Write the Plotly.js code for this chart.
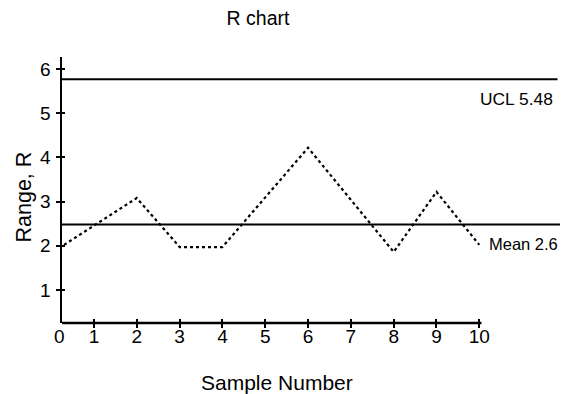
<!DOCTYPE html>
<html>
<head>
<meta charset="utf-8">
<script src="https://cdn.plot.ly/plotly-3.0.1.min.js"></script>
<style>html,body{margin:0;padding:0;background:#fff;}#chart{width:566px;height:394px;}</style>
</head>
<body>
<div id="chart"></div>
<script>
// Data
const sampleNumbers = [0.3, 2, 3, 4, 6, 8, 9, 10];
const rangeValues   = [2.02, 3.08, 1.97, 1.97, 4.22, 1.86, 3.22, 2.02];
const uclValue = 5.77;      // drawn position of the UCL line
const meanValue = 2.48;     // drawn position of the mean line
const uclLabel = "UCL 5.48";
const meanLabel = "Mean 2.6";
const xTickVals = [1, 2, 3, 4, 5, 6, 7, 8, 9, 10];
const yTickVals = [1, 2, 3, 4, 5, 6];

const font = "Liberation Sans, Arial, Helvetica, sans-serif";
const xRange = [0.2525, 11.885];
const yRange = [0.25, 6.275];

const traces = [
  {
    x: sampleNumbers, y: rangeValues, type: "scatter", mode: "lines",
    line: {color: "#000", width: 2.2, dash: "dot"},
    hoverinfo: "skip", showlegend: false
  },
  {x: [], y: [], xaxis: "x2", yaxis: "y2", type: "scatter", showlegend: false}
];

const layout = {
  width: 566, height: 394,
  margin: {l: 62, r: 6, t: 57, b: 71},
  paper_bgcolor: "#fff", plot_bgcolor: "#fff",
  font: {family: font, color: "#000", size: 19},
  showlegend: false,
  title: {text: "R chart", font: {family: font, size: 19.5, color: "#000"},
          x: 258 / 566, xanchor: "center", y: 1 - 18.5 / 394, yanchor: "middle"},
  xaxis: {
    range: xRange, tickvals: xTickVals, ticks: "inside", ticklen: 4, tickwidth: 2,
    tickcolor: "#000", showline: false, showgrid: false, zeroline: false,
    tickfont: {family: font, size: 19, color: "#000"}, ticklabelstandoff: 0
  },
  yaxis: {
    range: yRange, tickvals: yTickVals, ticks: "inside", ticklen: 3, tickwidth: 2,
    tickcolor: "#000", showline: true, linewidth: 2.5, linecolor: "#000",
    showgrid: false, zeroline: false,
    tickfont: {family: font, size: 19, color: "#000"}, ticklabelstandoff: 5
  },
  xaxis2: {
    range: xRange, tickvals: xTickVals, overlaying: "x", anchor: "y2", side: "bottom",
    ticks: "outside", ticklen: 4, tickwidth: 2, tickcolor: "#000",
    showticklabels: false, showline: false, showgrid: false, zeroline: false
  },
  yaxis2: {
    range: yRange, tickvals: yTickVals, overlaying: "y", anchor: "x2", side: "left",
    ticks: "outside", ticklen: 5, tickwidth: 2, tickcolor: "#000",
    showticklabels: false, showline: false, showgrid: false, zeroline: false
  },
  shapes: [
    {type: "line", xref: "paper", yref: "paper", x0: 0, x1: (10.05 - xRange[0]) / (xRange[1] - xRange[0]),
     y0: 0, y1: 0, line: {color: "#000", width: 2.5}},
    {type: "line", xref: "paper", yref: "y", x0: 0, x1: 0.995, y0: uclValue, y1: uclValue,
     line: {color: "#000", width: 2}},
    {type: "line", xref: "paper", yref: "y", x0: 0, x1: 1, y0: meanValue, y1: meanValue,
     line: {color: "#000", width: 2}}
  ],
  annotations: [
    {text: "Range, R", textangle: -90, xref: "paper", yref: "paper",
     x: (23 - 62) / 498, y: 1 - (197.5 - 57) / 266, xanchor: "center", yanchor: "middle",
     showarrow: false, font: {family: font, size: 21.5, color: "#000"}},
    {text: "Sample Number", xref: "paper", yref: "paper",
     x: (276.5 - 62) / 498, y: -(383 - 323) / 266, xanchor: "center", yanchor: "middle",
     showarrow: false, font: {family: font, size: 21, color: "#000"}},
    {text: uclLabel, xref: "paper", yref: "y", x: 0.99, y: uclValue, xanchor: "right", yanchor: "top",
     yshift: -8, showarrow: false, font: {family: font, size: 17.4, color: "#000"}},
    {text: meanLabel, xref: "paper", yref: "y", x: 1, y: meanValue, xanchor: "right", yanchor: "top",
     yshift: -8, showarrow: false, font: {family: font, size: 16.5, color: "#000"}},
    {text: "0", xref: "paper", yref: "paper", x: 0, y: 0, xanchor: "center", yanchor: "top",
     xshift: -3, yshift: -1, showarrow: false, font: {family: font, size: 19, color: "#000"}}
  ]
};

Plotly.newPlot("chart", traces, layout, {displayModeBar: false, staticPlot: true});
</script>
</body>
</html>
